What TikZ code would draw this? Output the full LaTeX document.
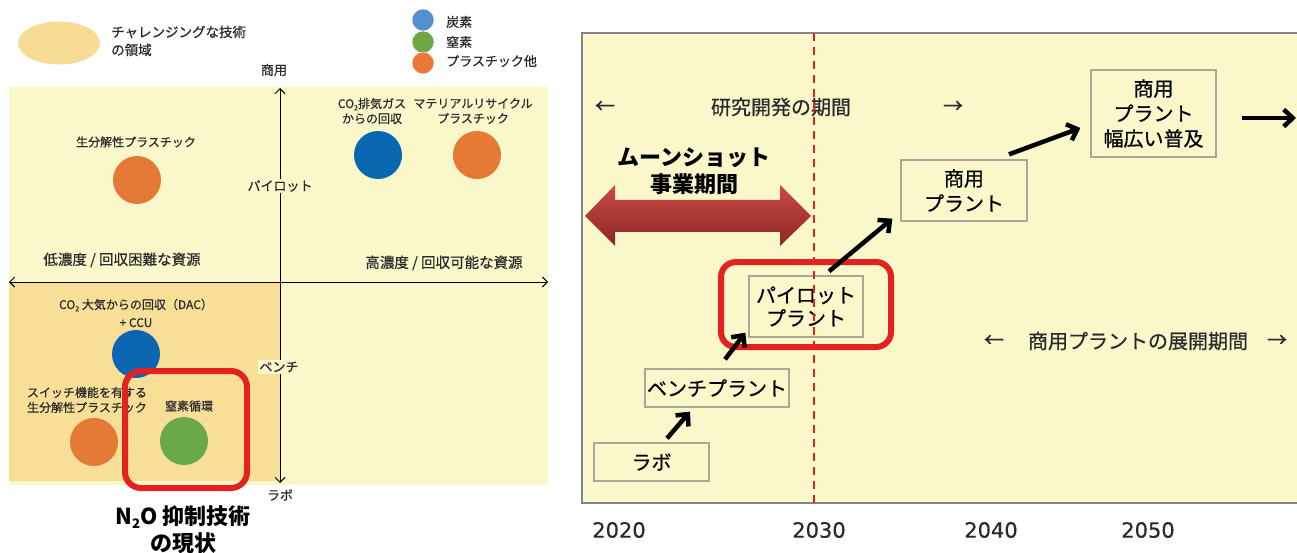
\documentclass[tikz,border=0pt]{standalone}
\usepackage{fontspec}
\setmainfont{Noto Sans CJK JP}[UprightFeatures={FakeBold=0.6}]
\newfontfamily\yearfont{DejaVu Sans}[FakeBold=0.5]
\usetikzlibrary{arrows.meta,shapes.geometric,calc}
\definecolor{panelY}{HTML}{FAF7CB}
\definecolor{regionO}{HTML}{F8DF98}
\definecolor{legendO}{HTML}{F8DC96}
\definecolor{dotBlue}{HTML}{0B67B2}
\definecolor{dotOrange}{HTML}{E47A35}
\definecolor{dotGreen}{HTML}{6AA84A}
\definecolor{legBlue}{HTML}{5390CC}
\definecolor{legGreen}{HTML}{6DA845}
\definecolor{legOrange}{HTML}{E8793A}
\definecolor{hlRed}{HTML}{E3211E}
\definecolor{boxGray}{HTML}{A9A894}
\definecolor{frameGray}{HTML}{858585}
\definecolor{arrTop}{HTML}{C84A45}
\definecolor{arrBot}{HTML}{8C2626}
\definecolor{txtGray}{HTML}{2A2A2A}
\newcommand{\sbtwo}{\raisebox{-0.35ex}{\scalebox{0.6}{2}}}
\tikzset{
  smalltxt/.style={font=\fontsize{12}{15}\selectfont, align=center, inner sep=0pt, text=txtGray},
  axistxt/.style={font=\fontsize{13}{15}\selectfont, inner sep=1.5pt, text=txtGray},
  legtxt/.style={font=\fontsize{13}{15}\selectfont, inner sep=0pt, anchor=west, text=txtGray},
  dot/.style={circle, minimum size=48pt, inner sep=0pt},
  legdot/.style={circle, minimum size=22pt, inner sep=0pt, draw=white, line width=0.4pt},
  hlbox/.style={draw=hlRed, line width=6pt, rounded corners=16pt},
  axisline/.style={line width=0.9pt, {Straight Barb[length=5pt,width=10pt]}-{Straight Barb[length=5pt,width=10pt]}},
  stagebox/.style={draw=boxGray, fill=panelY, line width=1.3pt, align=center, inner sep=0pt,
                   font=\fontsize{20}{24}\selectfont},
  bigarrow/.style={line width=4.5pt, -{Straight Barb[length=9pt,width=17pt]}},
  reddash/.style={draw=hlRed, line width=2.5pt, dash pattern=on 8pt off 6pt},
  periodtxt/.style={font=\fontsize{20}{24}\selectfont, inner sep=0pt, text=txtGray},
  yeartxt/.style={font=\yearfont\fontsize{21}{24}\selectfont, inner sep=0pt, text=txtGray},
}
\begin{document}
\begin{tikzpicture}[x=1pt,y=-1pt]
\useasboundingbox (0,0) rectangle (1297,553);
\fill[white] (0,0) rectangle (1297,553);

% ================= LEFT PANEL =================
% legend
\node[ellipse, fill=legendO, minimum width=82pt, minimum height=43pt, inner sep=0pt] (legell) at (59,43) {};
\node[legtxt, align=left, font=\fontsize{13.5}{18}\selectfont] (legtext) at (111,41) {チャレンジングな技術\\の領域};
\node[legdot, fill=legBlue] (lb) at (423,20) {};
\node[legdot, fill=legGreen] (lg) at (423,42) {};
\node[legdot, fill=legOrange] (lo) at (423,63) {};
\node[legtxt] (lbt) at (446,22) {炭素};
\node[legtxt] (lgt) at (446,42) {窒素};
\node[legtxt] (lot) at (446,61) {プラスチック他};

\node[axistxt] (shoyo) at (274,70) {商用};

% panel background
\fill[panelY] (9,87) rectangle (548,485);
\fill[regionO] (9,282) rectangle (280,481);

% axes
\coordinate (vt) at (280,88);
\coordinate (vb) at (280,483);
\coordinate (hl) at (9,282);
\coordinate (hr) at (548,282);
\draw[axisline] (vb) -- (vt);
\draw[axisline] (hl) -- (hr);
\node[axistxt, fill=panelY] (pilotlbl) at (280,186) {パイロット};
\node[axistxt, fill=panelY] (benchlbl) at (279,367) {ベンチ};
\node[axistxt] (lablbl) at (280,495) {ラボ};

\node[font=\fontsize{14.5}{16}\selectfont, inner sep=0pt, text=txtGray] (lowc) at (122,260) {低濃度 / 回収困難な資源};
\node[font=\fontsize{14.5}{16}\selectfont, inner sep=0pt, text=txtGray] (highc) at (444,263) {高濃度 / 回収可能な資源};

% items
\node[smalltxt] (t1) at (136,142) {生分解性プラスチック};
\node[dot, fill=dotOrange] (d1) at (137,180) {};
\node[smalltxt] (t2) at (372,111) {CO\sbtwo 排気ガス\\からの回収};
\node[dot, fill=dotBlue] (d2) at (378,155) {};
\node[smalltxt] (t3) at (473,111) {マテリアルリサイクル\\プラスチック};
\node[dot, fill=dotOrange] (d3) at (477,155) {};
\node[smalltxt, font=\fontsize{12}{18}\selectfont] (t4) at (136,313) {CO\sbtwo{} 大気からの回収（DAC）\\+ CCU};
\node[dot, fill=dotBlue] (d4) at (136,354) {};
\node[smalltxt] (t5) at (87,400) {スイッチ機能を有する\\生分解性プラスチック};
\node[dot, fill=dotOrange] (d5) at (94,442) {};
\node[smalltxt] (t6) at (189,406) {窒素循環};
\node[dot, fill=dotGreen] (d6) at (184,441) {};

\draw[hlbox] (125,371) rectangle (247,488);

\node[font=\bfseries\fontsize{22}{27}\selectfont, align=center, inner sep=0pt] (n2o) at (183,529.5) {N\sbtwo O 抑制技術\\の現状};

% ================= RIGHT PANEL =================
\fill[panelY] (582,33) rectangle (1297,503);
\draw[frameGray, line width=1.5pt] (1297,33) -- (582,33) -- (582,503) -- (1297,503);

% period text row
\node[periodtxt] (rdl) at (605,107) {←};
\node[periodtxt] (rdt) at (781,107) {研究開発の期間};
\node[periodtxt] (rdr) at (953,107) {→};

\node[periodtxt] (cpl) at (994,341) {←};
\node[periodtxt] (cpt) at (1138,341) {商用プラントの展開期間};
\node[periodtxt] (cpr) at (1277,341) {→};

% moonshot
\node[font=\bfseries\fontsize{22}{27}\selectfont, align=center, inner sep=0pt] (moon) at (694,171) {ムーンショット\\事業期間};
\shade[top color=arrTop, bottom color=arrBot]
  (585,216) -- (615,185) -- (615,200) -- (780,200) -- (780,185) -- (811,216)
  -- (780,246) -- (780,232) -- (615,232) -- (615,246) -- cycle;

% stage boxes
\node[stagebox, minimum width=115pt, minimum height=38pt] (lab) at (651.5,462) {ラボ};
\node[stagebox, minimum width=144pt, minimum height=38pt] (bench) at (717,388) {ベンチプラント};
\node[stagebox, minimum width=114pt, minimum height=61pt, font=\fontsize{20}{23}\selectfont] (pilot) at (806,306.5) {パイロット\\プラント};
\node[stagebox, minimum width=126pt, minimum height=61pt, font=\fontsize{20}{25}\selectfont] (comm) at (964,190.5) {商用\\プラント};
\node[stagebox, minimum width=125pt, minimum height=87pt, font=\fontsize{20}{25}\selectfont] (wide) at (1153.5,113.5) {商用\\プラント\\幅広い普及};

% dashed 2030 line
\coordinate (dtop) at (814,33);
\coordinate (dbot) at (814,503);
\draw[reddash] (dtop) -- (dbot);

% highlight on pilot
\draw[hlbox, rounded corners=15pt] (721,262) rectangle (891,347);

% stage arrows
\draw[bigarrow] ($(lab.north)+(15.5,-4)$) -- ($(bench.south)+(-27,4)$);
\draw[bigarrow] ($(bench.north)+(8,-9)$) -- ($(pilot.south west)+(-3,-5)$);
\draw[bigarrow] ($(pilot.north)+(23,-4)$) -- ($(comm.south west)+(-8,-3)$);
\draw[bigarrow] ($(comm.north)+(45,-5)$) -- ($(wide.west)+(-10,14.5)$);
\coordinate (outend) at (1296,118);
\draw[bigarrow] ($(wide.east)+(25,4.5)$) -- (outend);

% years
\node[yeartxt] (y20) at (619,530) {2020};
\node[yeartxt] (y30) at (819,530) {2030};
\node[yeartxt] (y40) at (991,530) {2040};
\node[yeartxt] (y50) at (1148,530) {2050};
\end{tikzpicture}
\end{document}
